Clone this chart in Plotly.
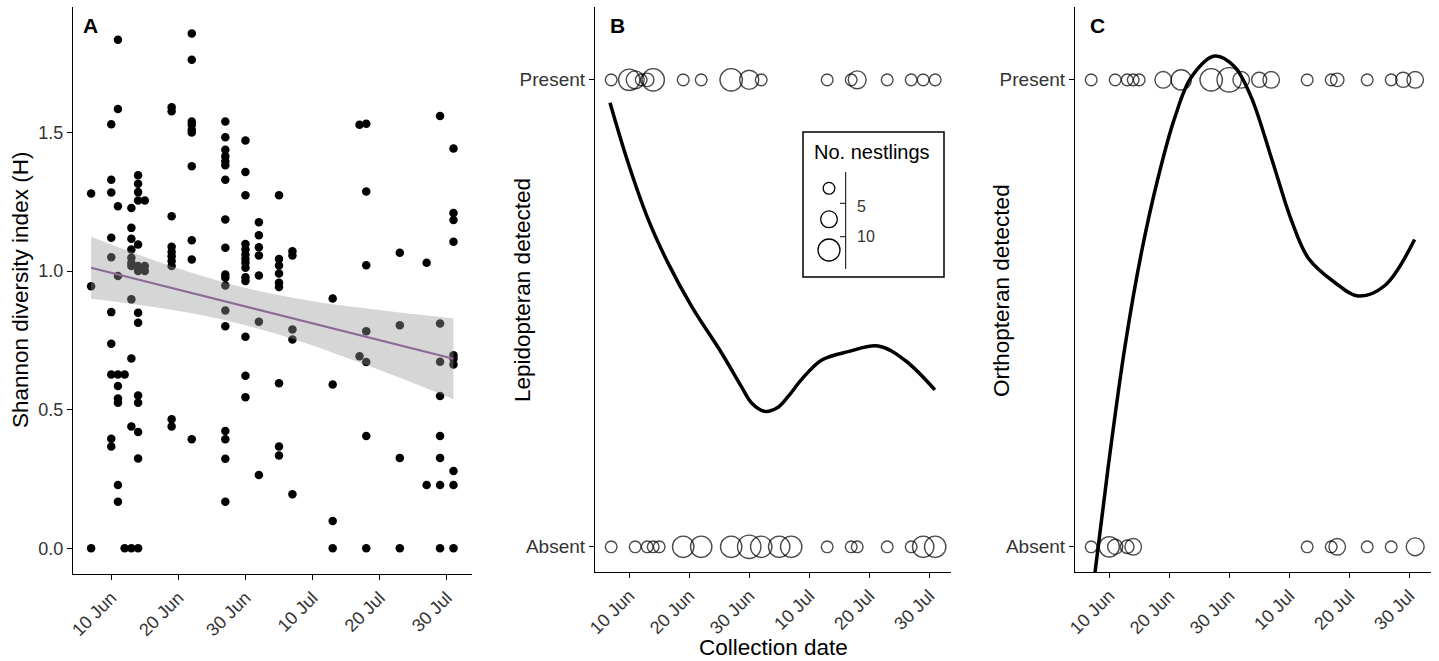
import numpy as np
import pandas as pd
import plotly.graph_objects as go

# ---------------- data ----------------
# Panel A: Shannon diversity index per sample, grouped by collection date
a_dates = ["2019-06-07", "2019-06-10", "2019-06-11", "2019-06-12", "2019-06-13",
           "2019-06-14", "2019-06-15", "2019-06-19", "2019-06-22", "2019-06-27",
           "2019-06-30", "2019-07-02", "2019-07-05", "2019-07-07", "2019-07-13",
           "2019-07-17", "2019-07-18", "2019-07-23", "2019-07-27", "2019-07-29",
           "2019-07-31"]
a_shannon = [
    [1.28, 0.945, 0.0],
    [1.53, 1.33, 1.284, 1.12, 1.05, 0.852, 0.738, 0.627, 0.395, 0.367],
    [1.835, 1.585, 1.234, 0.982, 0.627, 0.585, 0.54, 0.525, 0.228, 0.168],
    [0.627, 0.0],
    [1.228, 1.156, 1.117, 1.078, 1.048, 1.03, 1.018, 0.898, 0.685, 0.439, 0.0],
    [1.346, 1.315, 1.285, 1.255, 1.096, 1.018, 1.0, 0.85, 0.814, 0.551, 0.525, 0.419, 0.324, 0.0],
    [1.255, 1.018, 1.0],
    [1.591, 1.577, 1.198, 1.088, 1.07, 1.054, 1.036, 1.018, 0.465, 0.439],
    [1.857, 1.763, 1.54, 1.528, 1.51, 1.5, 1.378, 1.111, 1.042, 0.393],
    [1.54, 1.483, 1.438, 1.414, 1.396, 1.382, 1.33, 1.186, 1.084, 0.988, 0.976, 0.948,
     0.858, 0.801, 0.423, 0.393, 0.323, 0.168],
    [1.471, 1.358, 1.274, 1.098, 1.078, 1.06, 1.044, 1.03, 1.012, 0.978, 0.964, 0.763, 0.622, 0.545],
    [1.176, 1.129, 1.086, 1.056, 0.984, 0.817, 0.264],
    [1.274, 1.044, 1.02, 0.991, 0.958, 0.943, 0.595, 0.367, 0.335],
    [1.072, 1.056, 0.789, 0.753, 0.195],
    [0.901, 0.591, 0.098, 0.0],
    [1.528, 0.693],
    [1.532, 1.287, 1.021, 0.783, 0.672, 0.405, 0.0],
    [1.066, 0.805, 0.326, 0.0],
    [1.03, 0.228],
    [1.56, 0.811, 0.673, 0.549, 0.405, 0.326, 0.228, 0.0],
    [1.442, 1.21, 1.184, 1.106, 0.696, 0.684, 0.663, 0.279, 0.228, 0.0],
]

# Linear trend and its 95% confidence band as drawn in panel A (days after 10 Jun)
trend_day = [-3, 5, 12, 19, 27, 35, 43, 51]
trend_fit = [1.012, 0.963, 0.921, 0.878, 0.830, 0.781, 0.733, 0.684]
trend_lo = [0.900, 0.875, 0.848, 0.811, 0.756, 0.688, 0.615, 0.538]
trend_hi = [1.124, 1.051, 0.994, 0.945, 0.904, 0.874, 0.851, 0.830]

# Panel B: Lepidopteran detected (Present / Absent), bubble = no. nestlings
b_present_dates = ["2019-06-07", "2019-06-10", "2019-06-11", "2019-06-12", "2019-06-13",
                   "2019-06-14", "2019-06-19", "2019-06-22", "2019-06-27", "2019-06-30",
                   "2019-07-02", "2019-07-13", "2019-07-17", "2019-07-18", "2019-07-23",
                   "2019-07-27", "2019-07-29", "2019-07-31"]
b_present_n = [3, 10, 7, 3, 4, 11, 3, 3, 11, 8, 3, 3, 3, 7, 3, 3, 3, 3]
b_absent_dates = ["2019-06-07", "2019-06-11", "2019-06-13", "2019-06-14", "2019-06-15",
                  "2019-06-19", "2019-06-22", "2019-06-27", "2019-06-30", "2019-07-02",
                  "2019-07-05", "2019-07-07", "2019-07-13", "2019-07-17", "2019-07-18",
                  "2019-07-23", "2019-07-27", "2019-07-29", "2019-07-31"]
b_absent_n = [3, 3, 3, 3, 3, 10, 10, 10, 12, 10, 10, 10, 3, 3, 3, 3, 3, 10, 10]

# Panel C: Orthopteran detected
c_present_dates = ["2019-06-07", "2019-06-11", "2019-06-13", "2019-06-14", "2019-06-15",
                   "2019-06-19", "2019-06-22", "2019-06-27", "2019-06-30", "2019-07-02",
                   "2019-07-05", "2019-07-07", "2019-07-13", "2019-07-17", "2019-07-18",
                   "2019-07-23", "2019-07-27", "2019-07-29", "2019-07-31"]
c_present_n = [3, 3, 3, 3, 3, 6, 9, 11, 13, 6, 5, 6, 3, 3, 4, 3, 3, 5, 6]
c_absent_dates = ["2019-06-07", "2019-06-10", "2019-06-11", "2019-06-13", "2019-06-14",
                  "2019-07-13", "2019-07-17", "2019-07-18", "2019-07-23", "2019-07-27",
                  "2019-07-31"]
c_absent_n = [3, 9, 5, 4, 6, 3, 3, 6, 3, 3, 7]

# Smoothed detection-probability curves (days after 10 Jun, probability)
b_curve_day = [-3.2, -0.17, 3.2, 6.5, 10.4, 15.4, 18.7, 20.4, 22.6, 24.6, 26.5, 28.7,
               32.1, 36.5, 41.5, 45.9, 50.95]
b_curve_p = [0.951, 0.822, 0.700, 0.607, 0.515, 0.415, 0.343, 0.308, 0.290, 0.297, 0.322,
             0.358, 0.400, 0.418, 0.430, 0.400, 0.336]
c_curve_day = [-3.0, -0.17, 2.6, 5.4, 8.2, 10.9, 13.7, 17.6, 20.9, 23.7, 27.1, 30.4,
               33.2, 37.6, 41.5, 45.9, 50.9]
c_curve_p = [-0.12, 0.171, 0.427, 0.632, 0.793, 0.918, 1.006, 1.051, 1.028, 0.962, 0.830,
             0.698, 0.618, 0.566, 0.537, 0.559, 0.658]

tick_dates = ["2019-06-10", "2019-06-20", "2019-06-30", "2019-07-10", "2019-07-20", "2019-07-30"]
tick_labels = ["10 Jun", "20 Jun", "30 Jun", "10 Jul", "20 Jul", "30 Jul"]
a_yticks = [0.0, 0.5, 1.0, 1.5]
pa_ticks = [0, 1]
pa_labels = ["Absent", "Present"]
legend_breaks = ["5", "10"]

# ---------------- derived ----------------
W, H = 1439, 661
base = pd.Timestamp("2019-06-10")
FONT = "Liberation Sans, Arial, sans-serif"

ax, ay = [], []
for d, vals in zip(a_dates, a_shannon):
    for v in vals:
        ax.append(pd.Timestamp(d))
        ay.append(v)

trend_x = [base + pd.Timedelta(days=d) for d in trend_day]
b_curve_x = [base + pd.Timedelta(days=d) for d in b_curve_day]
c_curve_x = [base + pd.Timedelta(days=d) for d in c_curve_day]
xrange = [base + pd.Timedelta(days=-5.7), base + pd.Timedelta(days=53.7)]

SIZEREF = 0.0438

fig = go.Figure()

# Panel A
fig.add_trace(go.Scatter(x=ax, y=ay, mode="markers", xaxis="x", yaxis="y",
                         marker=dict(color="black", size=8.5, line=dict(width=0)),
                         showlegend=False, hoverinfo="skip"))
fig.add_trace(go.Scatter(x=trend_x, y=trend_lo, mode="lines",
                         line=dict(width=0, shape="spline"),
                         xaxis="x", yaxis="y", showlegend=False, hoverinfo="skip"))
fig.add_trace(go.Scatter(x=trend_x, y=trend_hi, mode="lines",
                         line=dict(width=0, shape="spline"),
                         fill="tonexty", fillcolor="rgba(153,153,153,0.4)",
                         xaxis="x", yaxis="y", showlegend=False, hoverinfo="skip"))
fig.add_trace(go.Scatter(x=trend_x, y=trend_fit, mode="lines",
                         line=dict(color="#8a6b93", width=2),
                         xaxis="x", yaxis="y", showlegend=False, hoverinfo="skip"))


def bubbles(dates, counts, yval, xa, ya):
    return go.Scatter(x=pd.to_datetime(dates), y=[yval] * len(dates), mode="markers",
                      xaxis=xa, yaxis=ya, showlegend=False, hoverinfo="skip",
                      marker=dict(size=counts, sizemode="area", sizeref=SIZEREF, sizemin=1,
                                  color="rgba(0,0,0,0)",
                                  line=dict(color="black", width=1.4)))


# Panel B
fig.add_trace(bubbles(b_present_dates, b_present_n, 1, "x2", "y2"))
fig.add_trace(bubbles(b_absent_dates, b_absent_n, 0, "x2", "y2"))
fig.add_trace(go.Scatter(x=b_curve_x, y=b_curve_p, mode="lines", xaxis="x2", yaxis="y2",
                         line=dict(color="black", width=3.5, shape="spline", smoothing=1.0),
                         showlegend=False, hoverinfo="skip"))
# Panel C
fig.add_trace(bubbles(c_present_dates, c_present_n, 1, "x3", "y3"))
fig.add_trace(bubbles(c_absent_dates, c_absent_n, 0, "x3", "y3"))
fig.add_trace(go.Scatter(x=c_curve_x, y=c_curve_p, mode="lines", xaxis="x3", yaxis="y3",
                         line=dict(color="black", width=3.5, shape="spline", smoothing=1.0),
                         showlegend=False, hoverinfo="skip"))


def px(x):
    return x / W


def py(y):
    return (H - y) / H


axis_common = dict(showline=True, linecolor="black", linewidth=1.3, ticks="outside",
                   ticklen=5, tickwidth=1.1, tickcolor="black", showgrid=False,
                   zeroline=False, mirror=False, automargin=False)
tfont = dict(family=FONT, size=18, color="#333333")

xa_common = dict(axis_common, type="date", range=xrange, tickvals=pd.to_datetime(tick_dates),
                 ticktext=tick_labels, tickangle=-45, tickfont=tfont)

ydom_a = [py(574), py(7)]
ydom_bc = [py(572), py(7)]

fig.update_layout(
    width=W, height=H, margin=dict(l=0, r=0, t=0, b=0, pad=0, autoexpand=False),
    paper_bgcolor="white", plot_bgcolor="white",
    font=dict(family=FONT, color="black"),
    xaxis=dict(xa_common, domain=[px(73), px(471.6)], anchor="y"),
    yaxis=dict(axis_common, domain=ydom_a, anchor="x", range=[-0.093, 1.953],
               tickvals=a_yticks, ticktext=[f"{v:.1f}" for v in a_yticks], tickfont=tfont),
    xaxis2=dict(xa_common, domain=[px(595), px(951.4)], anchor="y2"),
    yaxis2=dict(axis_common, domain=ydom_bc, anchor="x2", range=[-0.054, 1.156],
                tickvals=pa_ticks, ticktext=pa_labels, tickfont=dict(tfont, size=19)),
    xaxis3=dict(xa_common, domain=[px(1075), px(1431.4)], anchor="y3"),
    yaxis3=dict(axis_common, domain=ydom_bc, anchor="x3", range=[-0.054, 1.156],
                tickvals=pa_ticks, ticktext=pa_labels, tickfont=dict(tfont, size=19)),
)

ann = []
title_font = dict(family=FONT, size=22.5, color="black")
for txt, x in [("A", 81), ("B", 608), ("C", 1088)]:
    ann.append(dict(text=f"<b>{txt}</b>", x=px(x), y=py(25), xref="paper", yref="paper",
                    xanchor="left", yanchor="middle", showarrow=False,
                    font=dict(family=FONT, size=21, color="black")))
for txt, x in [("Shannon diversity index (H)", 21), ("Lepidopteran detected", 523),
               ("Orthopteran detected", 1002)]:
    ann.append(dict(text=txt, x=px(x), y=py(290), xref="paper", yref="paper",
                    xanchor="center", yanchor="middle", textangle=-90, showarrow=False,
                    font=title_font))
ann.append(dict(text="Collection date", x=px(774), y=py(647), xref="paper", yref="paper",
                xanchor="center", yanchor="middle", showarrow=False, font=title_font))

# size legend (binned: <5, 5-10, >10)
ann.append(dict(text="No. nestlings", x=px(872), y=py(152), xref="paper", yref="paper",
                xanchor="center", yanchor="middle", showarrow=False,
                font=dict(family=FONT, size=20, color="black")))
for lab, yy in zip(legend_breaks, [206, 237]):
    ann.append(dict(text=lab, x=px(855), y=py(yy), xref="paper", yref="paper",
                    xanchor="left", yanchor="middle", showarrow=False,
                    font=dict(family=FONT, size=16, color="#333333")))
fig.update_layout(annotations=ann)

shapes = [dict(type="rect", xref="paper", yref="paper", x0=px(803), x1=px(944),
               y0=py(277), y1=py(132), line=dict(color="black", width=1.5))]
for d, cy in zip([11.7, 16.7, 22.0], [188.3, 219.3, 250.0]):
    r = d / 2
    shapes.append(dict(type="circle", xref="paper", yref="paper",
                       x0=px(829 - r), x1=px(829 + r), y0=py(cy + r), y1=py(cy - r),
                       line=dict(color="black", width=1.3)))
shapes.append(dict(type="line", xref="paper", yref="paper", x0=px(845.7), x1=px(845.7),
                   y0=py(269), y1=py(172), line=dict(color="black", width=1)))
for ty in [203.3, 236.7]:
    shapes.append(dict(type="line", xref="paper", yref="paper", x0=px(840), x1=px(845.7),
                       y0=py(ty), y1=py(ty), line=dict(color="black", width=1)))
fig.update_layout(shapes=shapes)

post = ("document.documentElement.style.margin='0px';"
        "document.body.style.margin='0px';document.body.style.padding='0px';"
        "document.body.style.overflow='hidden';"
        "var gds=document.getElementsByClassName('plotly-graph-div');"
        "for(var i=0;i<gds.length;i++){gds[i].style.position='absolute';"
        "gds[i].style.left='0px';gds[i].style.top='0px';}")
fig.write_html("out.html", config={"displayModeBar": False, "responsive": False},
               post_script=post)
